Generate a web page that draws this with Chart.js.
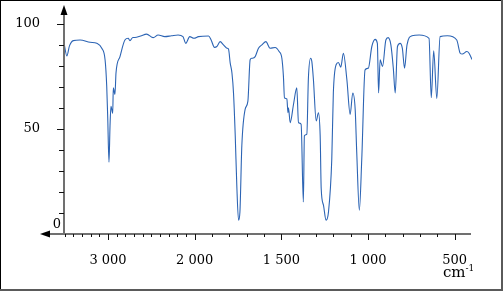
<!DOCTYPE html>
<html>
<head>
<meta charset="utf-8">
<script src="https://cdn.jsdelivr.net/npm/chart.js@4"></script>
<style>
  html, body { margin: 0; padding: 0; background: #fff; }
  canvas { display: block; }
</style>
</head>
<body>
<canvas id="irChart" width="504" height="291"></canvas>
<script>
// ---------- Data ----------
const wavenumbers = [3506, 3475, 3445, 3400, 3322, 3207, 3130, 3072, 3034, 3015, 3003, 2989, 2977, 2966, 2946, 2939, 2920, 2908, 2862, 2805, 2767, 2747, 2713, 2690, 2624, 2555, 2479, 2422, 2345, 2268, 2192, 2135, 2103, 2057, 2008, 1978, 1920, 1905, 1886, 1872, 1853, 1834, 1814, 1805, 1795, 1785, 1776, 1766, 1757, 1747, 1739, 1728, 1709, 1693, 1680, 1670, 1651, 1632, 1612, 1589, 1565, 1536, 1513, 1497, 1488, 1482, 1468, 1462, 1459, 1449, 1430, 1411, 1401, 1386, 1373, 1367, 1353, 1344, 1331, 1324, 1315, 1299, 1286, 1276, 1270, 1257, 1242, 1228, 1209, 1200, 1184, 1171, 1157, 1142, 1122, 1103, 1088, 1074, 1065, 1050, 1036, 1017, 998, 978, 959, 946, 939, 930, 916, 897, 884, 868, 854, 843, 830, 815, 802, 789, 775, 746, 705, 648, 635, 621, 603, 584, 542, 488, 468, 456, 430, 417, 400];
const transmittance = [90.5, 84.7, 89.5, 92, 92.3, 91.2, 90.7, 88.4, 82.9, 70.3, 54.7, 34.1, 51.4, 60.8, 57.4, 69.5, 66.4, 76.6, 84.4, 92.3, 93.1, 92.0, 93.5, 93.5, 94.2, 95.1, 93.4, 94.7, 93.9, 94.3, 94.7, 93.9, 90.7, 93.9, 93.1, 93.9, 94.2, 92.3, 88.8, 89.2, 91.5, 90.0, 88.4, 88.0, 81.3, 76.6, 67.1, 46.7, 23.1, 6.6, 10.5, 42, 59.3, 63.2, 82.9, 83.6, 84.4, 88.4, 90, 91.5, 88.4, 88.7, 86.8, 83.6, 75, 64.8, 64.3, 57.7, 60, 53, 61.6, 69.5, 53, 52.2, 15.2, 46.7, 47.5, 74, 83.6, 82, 73.5, 53.8, 57.7, 46.7, 21.5, 13.7, 6.6, 10.5, 35.7, 67.1, 80.5, 81.6, 79.4, 86, 73.5, 56.9, 67.1, 59.3, 38.8, 11.3, 35.7, 78.1, 78.9, 89.2, 92.6, 90.7, 67.1, 82.9, 79.7, 92.3, 93.4, 90, 78.9, 67.1, 89.2, 90.7, 88.4, 78.9, 90, 94.3, 94.7, 93.1, 64.8, 87.1, 64.5, 93.9, 94.3, 92.3, 86, 85.6, 86.8, 86, 83];

const xTickLabels = [3000, 2000, 1500, 1000, 500];
const yTickLabels = [0, 50, 100];
const xUnit = "cm";
const xUnitSup = "-1";

// ---------- Scale with the usual 2 000 cm-1 scale change ----------
const BREAK = 2000;
function stretch(v) { return v >= BREAK ? v : BREAK - (BREAK - v) * 2; }
function unstretch(s) { return s >= BREAK ? s : BREAK - (BREAK - s) / 2; }

class WaveScale extends Chart.LinearScale {
  getPixelForValue(value) {
    const hi = stretch(this.max), lo = stretch(this.min);
    return this.getPixelForDecimal((hi - stretch(value)) / (hi - lo));
  }
  getValueForPixel(pixel) {
    const hi = stretch(this.max), lo = stretch(this.min);
    return unstretch(hi - this.getDecimalForPixel(pixel) * (hi - lo));
  }
}
WaveScale.id = "wave";
WaveScale.defaults = Chart.LinearScale.defaults;
Chart.register(WaveScale);

function fmtWave(v) {
  if (v < 1000) return String(v);
  return Math.floor(v / 1000) + " " + String(v % 1000).padStart(3, "0");
}

// ---------- Axes, arrows, ticks, frame ----------
const axesPlugin = {
  id: "axesPlugin",
  afterDraw(chart) {
    const ctx = chart.ctx;
    const xs = chart.scales.x, ys = chart.scales.y;
    const ox = xs.left, oy = ys.bottom;
    ctx.save();

    // frame
    ctx.fillStyle = "#000";
    ctx.fillRect(0, 0, 503, 1);
    ctx.fillRect(0, 0, 1, 291);
    ctx.fillStyle = "#5a5a5a";
    ctx.fillRect(501, 0, 2, 291);
    ctx.fillRect(0, 289, 503, 2);

    // axis lines
    ctx.strokeStyle = "#707070";
    ctx.lineWidth = 2;
    ctx.beginPath();
    ctx.moveTo(ox, 14); ctx.lineTo(ox, oy);
    ctx.moveTo(49, oy); ctx.lineTo(xs.right - 1, oy);
    ctx.stroke();

    // arrows
    ctx.fillStyle = "#000";
    ctx.beginPath();
    ctx.moveTo(ox, 5); ctx.lineTo(ox - 3.5, 15); ctx.lineTo(ox + 3.5, 15); ctx.closePath();
    ctx.fill();
    ctx.beginPath();
    ctx.moveTo(40, oy); ctx.lineTo(50, oy - 3.5); ctx.lineTo(50, oy + 3.5); ctx.closePath();
    ctx.fill();

    // ticks
    ctx.strokeStyle = "#111";
    ctx.lineWidth = 1;
    ctx.beginPath();
    for (let v = 10; v <= 100; v += 10) {
      const y = Math.round(ys.getPixelForValue(v)) + 0.5;
      const len = yTickLabels.includes(v) ? 7 : 5;
      ctx.moveTo(ox - len, y); ctx.lineTo(ox, y);
    }
    for (let v = 3500; v >= 500; v -= 100) {
      const x = Math.round(xs.getPixelForValue(v)) + 0.5;
      const len = xTickLabels.includes(v) ? 6 : 3;
      ctx.moveTo(x, oy); ctx.lineTo(x, oy + len);
    }
    ctx.stroke();

    // "0" label and unit
    ctx.fillStyle = "#000";
    ctx.font = "13px 'DejaVu Serif'";
    ctx.textAlign = "right";
    ctx.textBaseline = "middle";
    ctx.fillText(String(yTickLabels[0]), 61, 225);
    ctx.textBaseline = "alphabetic";
    ctx.font = "15px 'DejaVu Serif'";
    ctx.fillText(xUnit, 465.5, 277);
    ctx.font = "9px 'DejaVu Serif'";
    ctx.textAlign = "left";
    ctx.fillText(xUnitSup, 465.5, 271);
    ctx.restore();
  },
};

// ---------- Chart ----------
const points = wavenumbers.map((w, i) => ({ x: w, y: transmittance[i] }));

new Chart(document.getElementById("irChart"), {
  type: "line",
  data: {
    datasets: [{
      data: points,
      borderColor: "#2c64b4",
      borderWidth: 1.1,
      pointRadius: 0,
      fill: false,
      cubicInterpolationMode: "monotone",
    }],
  },
  options: {
    responsive: false,
    animation: false,
    layout: { padding: { top: 22, right: 32, left: 0, bottom: 0 } },
    plugins: { legend: { display: false }, tooltip: { enabled: false } },
    scales: {
      x: {
        type: "wave",
        min: 400,
        max: 3508,
        grid: { display: false },
        border: { display: false },
        ticks: {
          autoSkip: false,
          maxRotation: 0,
          padding: 11,
          color: "#000",
          font: { family: "DejaVu Serif", size: 13 },
          callback: (v) => fmtWave(v),
        },
        afterBuildTicks: (s) => { s.ticks = xTickLabels.map((v) => ({ value: v })); },
        afterFit: (s) => { s.height = 57; },
      },
      y: {
        min: 0,
        max: 100,
        grid: { display: false },
        border: { display: false },
        ticks: {
          padding: 16,
          color: "#000",
          font: { family: "DejaVu Serif", size: 13 },
        },
        afterBuildTicks: (s) => { s.ticks = yTickLabels.slice(1).map((v) => ({ value: v })); },
        afterFit: (s) => { s.width = 64; },
      },
    },
  },
  plugins: [axesPlugin],
});
</script>
</body>
</html>
